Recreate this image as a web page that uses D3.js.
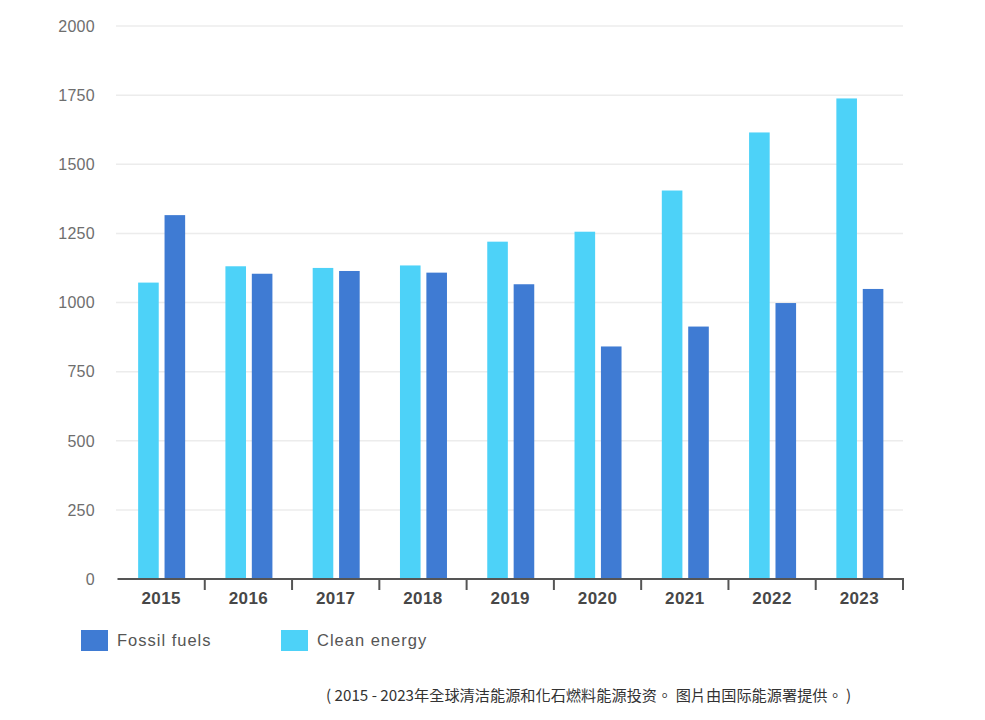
<!DOCTYPE html>
<html>
<head>
<meta charset="utf-8">
<script src="https://cdn.jsdelivr.net/npm/d3@7"></script>
<style>
  body { margin: 0; background: #fff; }
  svg { display: block; }
  .grid line { stroke: #ececec; stroke-width: 1.5; }
  .ylabel { font-family: "Liberation Sans", Arial, sans-serif; font-size: 16px; letter-spacing: 0.3px; fill: #6e6e6e; }
  .xaxis text { font-family: "Liberation Sans", Arial, sans-serif; font-size: 17px; font-weight: bold; letter-spacing: 0.4px; fill: #474747; }
  .legend text { font-family: "Liberation Sans", Arial, sans-serif; font-size: 16.5px; letter-spacing: 1px; fill: #555; }
  .caption { font-family: "Noto Sans CJK TC", "Noto Sans CJK SC", sans-serif; font-size: 15.2px; fill: #333; }
</style>
</head>
<body>
<div id="chart"></div>
<script>
// data
var years = ['2015', '2016', '2017', '2018', '2019', '2020', '2021', '2022', '2023'];
var cleanEnergy = [1072, 1131, 1125, 1134, 1220, 1256, 1405, 1615, 1738];
var fossilFuels = [1316, 1104, 1114, 1108, 1066, 841, 913, 998, 1049];
var yTicks = [0, 250, 500, 750, 1000, 1250, 1500, 1750, 2000];
var seriesKeys = ['clean', 'fossil'];
var seriesNames = {fossil: 'Fossil fuels', clean: 'Clean energy'};
var seriesColors = {fossil: '#3f7bd3', clean: '#4dd2f8'};

const WIDTH = 985;
const HEIGHT = 720;

var svg = d3.select('#chart').append('svg')
            .attr('width', WIDTH)
            .attr('height', HEIGHT);

var x0 = d3.scaleBand().domain(years).range([117.5, 903]).padding(0);
var x1 = d3.scaleBand().domain(seriesKeys)
           .range([x0.bandwidth() / 2 - 23, x0.bandwidth() / 2 + 24])
           .paddingInner(0.22);
var y = d3.scaleLinear().domain([0, 2000]).range([579, 26]);

// gridlines
svg.append('g').classed('grid', true)
   .selectAll('line').data(yTicks.slice(1))
   .enter().append('line')
   .attr('x1', 116).attr('x2', 903)
   .attr('y1', d => y(d)).attr('y2', d => y(d));

// y labels
svg.append('g').selectAll('text').data(yTicks)
   .enter().append('text')
   .classed('ylabel', true)
   .attr('x', 95)
   .attr('y', d => y(d))
   .attr('dy', '0.36em')
   .attr('text-anchor', 'end')
   .text(d => d);

// bars
var rows = years.map((yr, i) => ({year: yr, clean: cleanEnergy[i], fossil: fossilFuels[i]}));

var groups = svg.append('g').selectAll('g.year').data(rows)
                .enter().append('g')
                .classed('year', true)
                .attr('transform', d => 'translate(' + x0(d.year) + ',0)');

groups.selectAll('rect').data(d => seriesKeys.map(k => ({key: k, value: d[k]})))
      .enter().append('rect')
      .attr('x', d => x1(d.key))
      .attr('width', x1.bandwidth())
      .attr('y', d => y(d.value))
      .attr('height', d => y(0) - y(d.value))
      .attr('fill', d => seriesColors[d.key]);

// x axis
var xaxis = svg.append('g').classed('xaxis', true);
xaxis.append('line')
     .attr('x1', x0.range()[0]).attr('x2', x0.range()[1] + 1)
     .attr('y1', y(0)).attr('y2', y(0))
     .attr('stroke', '#555').attr('stroke-width', 2);
xaxis.selectAll('line.tick').data(years)
     .enter().append('line')
     .classed('tick', true)
     .attr('x1', d => x0(d) + x0.bandwidth()).attr('x2', d => x0(d) + x0.bandwidth())
     .attr('y1', y(0)).attr('y2', y(0) + 11)
     .attr('stroke', '#555').attr('stroke-width', 2);
xaxis.selectAll('text').data(years)
     .enter().append('text')
     .attr('x', d => x0(d) + x0.bandwidth() / 2)
     .attr('y', y(0) + 25)
     .attr('text-anchor', 'middle')
     .text(d => d);

// legend
var legendItems = [
  {key: 'fossil', x: 81},
  {key: 'clean', x: 281}
];
var legend = svg.append('g').classed('legend', true)
                .selectAll('g').data(legendItems)
                .enter().append('g')
                .attr('transform', d => 'translate(' + d.x + ',630)');
legend.append('rect')
      .attr('width', 27).attr('height', 21)
      .attr('fill', d => seriesColors[d.key]);
legend.append('text')
      .attr('x', 36).attr('y', 16)
      .text(d => seriesNames[d.key]);

// caption
svg.append('text')
   .classed('caption', true)
   .attr('lang', 'zh-Hant')
   .attr('x', 326).attr('y', 701)
   .text('( 2015 - 2023年全球清洁能源和化石燃料能源投资。 图片由国际能源署提供。 )');
</script>
</body>
</html>
